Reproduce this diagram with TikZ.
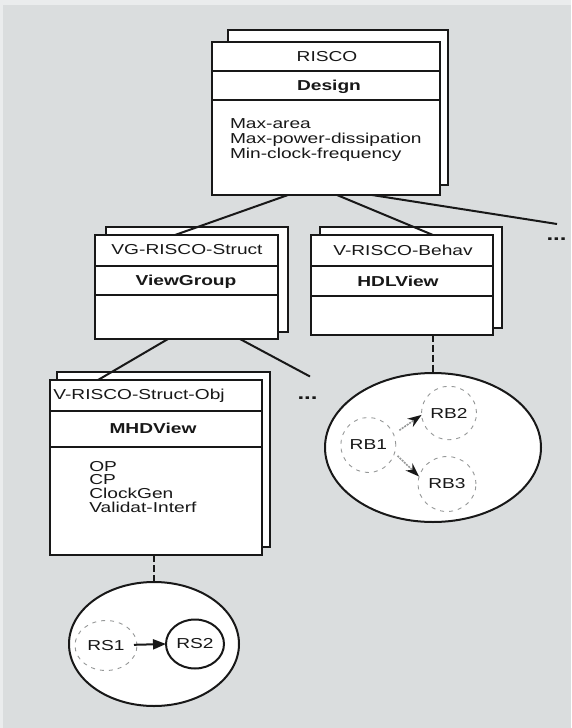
\documentclass[tikz,border=0pt]{standalone}
\usepackage{fontspec}
\setmainfont{Liberation Sans}[FakeStretch=1.33]
\usetikzlibrary{shapes.geometric,arrows.meta}

\definecolor{paper}{RGB}{218,221,222}
\definecolor{paperedge}{RGB}{234,236,237}
\definecolor{ink}{RGB}{24,24,24}
\definecolor{faint}{RGB}{150,152,152}

\begin{document}
\begin{tikzpicture}[x=1pt,y=-1pt,
  card/.style={draw=ink, line width=2pt, fill=white, rectangle, inner sep=0, outer sep=0},
  sepline/.style={draw=ink, line width=2pt},
  lbl/.style={inner sep=0, outer sep=0, text=ink, font=\fontsize{14.4}{14.4}\selectfont},
  hd/.style={lbl, font=\fontsize{14.4}{14.4}\selectfont\bfseries},
  more/.style={inner sep=0, outer sep=0, text=ink, font=\fontsize{18}{18}\selectfont\bfseries},
  link/.style={draw=ink, line width=2pt},
  dashlink/.style={draw=ink, line width=2.4pt, dash pattern=on 7pt off 3pt},
  group/.style={draw=ink, line width=2pt, fill=white, ellipse, inner sep=0, outer sep=0},
  ring/.style={draw=faint, line width=0.9pt, dash pattern=on 4pt off 5pt, ellipse, inner sep=0, outer sep=0, text=ink, font=\fontsize{14.4}{14.4}\selectfont},
  solidring/.style={draw=ink, line width=2pt, ellipse, inner sep=0, outer sep=0, text=ink, font=\fontsize{14.4}{14.4}\selectfont},
  flow/.style={draw=ink, line width=2pt, -{Triangle[length=13pt,width=10pt]}},
  faintflow/.style={draw=faint, line width=1.6pt, dash pattern=on 2pt off 1pt, -{Stealth[length=14pt,width=10pt,color=ink]}}
]
% page
\fill[paper] (0,0) rectangle (571,728);
\fill[paperedge] (0,0) rectangle (571,5);
\fill[paperedge] (0,0) rectangle (3,728);
\useasboundingbox (0,0) rectangle (571,728);

% ---- Design object ----
\node[card, minimum width=220, minimum height=155] (designback) at (338,107.5) {};
\node[card, minimum width=228, minimum height=153] (design) at (326,118.5) {};
\draw[sepline] (design.west |- 0,71) -- (design.east |- 0,71);
\draw[sepline] (design.west |- 0,99.5) -- (design.east |- 0,99.5);
\node[lbl, anchor=base] (designname) at (327,61.5) {RISCO};
\node[hd, anchor=base] (designclass) at (329,90) {Design};
\node[lbl, anchor=base west] (dattr1) at (230,128.3) {Max-area};
\node[lbl, anchor=base west] (dattr2) at (230,143.3) {Max-power-dissipation};
\node[lbl, anchor=base west] (dattr3) at (230,158.3) {Min-clock-frequency};

% ---- ViewGroup object ----
\node[card, minimum width=182, minimum height=105] (vgback) at (197,279.5) {};
\node[card, minimum width=182.5, minimum height=104] (vg) at (186.25,287) {};
\draw[sepline] (vg.west |- 0,266) -- (vg.east |- 0,266);
\draw[sepline] (vg.west |- 0,295) -- (vg.east |- 0,295);
\node[lbl, anchor=base] (vgname) at (187,254.5) {VG-RISCO-Struct};
\node[hd, anchor=base] (vgclass) at (186,285.5) {ViewGroup};

% ---- HDLView object ----
\node[card, minimum width=182, minimum height=100.5] (hdlback) at (411,277.25) {};
\node[card, minimum width=182.5, minimum height=99.5] (hdl) at (401.75,284.75) {};
\draw[sepline] (hdl.west |- 0,266) -- (hdl.east |- 0,266);
\draw[sepline] (hdl.west |- 0,296) -- (hdl.east |- 0,296);
\node[lbl, anchor=base] (hdlname) at (403,255) {V-RISCO-Behav};
\node[hd, anchor=base] (hdlclass) at (398,286) {HDLView};

% ---- MHDView object ----
\node[card, minimum width=213, minimum height=175] (mhdback) at (163.5,459.5) {};
\node[card, minimum width=212, minimum height=175] (mhd) at (156,467.5) {};
\draw[sepline] (mhd.west |- 0,411) -- (mhd.east |- 0,411);
\draw[sepline] (mhd.west |- 0,447) -- (mhd.east |- 0,447);
\node[lbl, anchor=base] (mhdname) at (139,399.5) {V-RISCO-Struct-Obj};
\node[hd, anchor=base] (mhdclass) at (153,433.5) {MHDView};
\node[lbl, anchor=base west] (mattr1) at (89.3,471) {OP};
\node[lbl, anchor=base west] (mattr2) at (89.3,484.7) {CP};
\node[lbl, anchor=base west] (mattr3) at (89.3,498.5) {ClockGen};
\node[lbl, anchor=base west] (mattr4) at (89.3,512.3) {Validat-Interf};

% ---- elided siblings ----
\node[more, anchor=base] (moreA) at (556.5,240.5) {...};
\node[more, anchor=base] (moreB) at (307.5,399) {...};
\coordinate (moreAend) at (557,224);
\coordinate (moreBend) at (310,376.5);

% ---- hierarchy links ----
\draw[link] (design.south -| 288,0) -- (vg.north -| 175,0);
\draw[link] (design.south -| 337,0) -- (hdl.north -| 433,0);
\draw[link] (design.south -| 372,0) -- (moreAend);
\draw[link] (vg.south -| 168,0) -- (mhd.north -| 98,0);
\draw[link] (vg.south -| 240,0) -- (moreBend);

% ---- behavioural blocks ----
\node[group, minimum width=216, minimum height=149] (rbgroup) at (433,447.5) {};
\draw[dashlink] (hdl.south -| rbgroup.north) -- (rbgroup.north);
\node[ring, minimum width=55, minimum height=55] (rb1) at (368.3,445) {RB1};
\node[ring, minimum width=55, minimum height=53.5] (rb2) at (449,413) {RB2};
\node[ring, minimum width=58, minimum height=55] (rb3) at (447,484) {RB3};
\draw[faintflow, shorten <=7pt] (rb1.23) -- (rb2.184);
\draw[faintflow, shorten <=4pt] (rb1.-17) -- (rb3.165);

% ---- structural blocks ----
\node[group, minimum width=170, minimum height=124] (rsgroup) at (154,644) {};
\draw[dashlink] (mhd.south -| rsgroup.north) -- (rsgroup.north);
\node[ring, minimum width=62, minimum height=50] (rs1) at (106,645.5) {RS1};
\node[solidring, minimum width=58, minimum height=49] (rs2) at (195,644) {RS2};
\draw[flow, shorten <=28pt] (rs1.center) -- (rs2.west);
\end{tikzpicture}
\end{document}
